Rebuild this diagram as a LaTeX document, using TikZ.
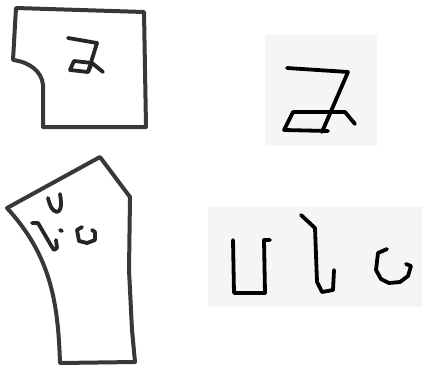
\documentclass[tikz,border=0pt]{standalone}
\begin{document}
\begin{tikzpicture}[x=1pt,y=-1pt,
  outline/.style={draw=black!78,line width=4pt,line join=round,line cap=round},
  glyph/.style={draw=black!85,line width=3.8pt,line join=round,line cap=round},
  bigglyph/.style={draw=black,line width=3.8pt,line join=round,line cap=round},
  photo/.style={fill=black!4,draw=none}]
\useasboundingbox (0,0) rectangle (422,367);
\fill[white] (0,0) rectangle (422,367);
% photo backgrounds
\fill[photo] (265,35) rectangle (377,146);
\fill[photo] (208,207) rectangle (422,307);
% fragment 1
\draw[outline] (16,8) -- (144,12) -- (146,127) -- (43,127) -- (43,85)
  .. controls (42,72) and (30,62) .. (13,60) -- cycle;
\draw[glyph] (68,38) -- (97,43) -- (88,72);
\draw[glyph] (74,61) -- (92,63) -- (88,72) -- (70,70) -- cycle;
\draw[glyph] (92,63) -- (103,72);
% fragment 2
\draw[outline] (7,208) -- (100,157) -- (130,197) -- (129,270) -- (132,330) -- (135,362) -- (60,363)
  .. controls (58,300) and (50,255) .. cycle;
\draw[glyph] (48,198) .. controls (50,206) and (52,211) .. (57,212) .. controls (61,211) and (62,206) .. (60,194);
\draw[glyph] (32,223) -- (38,223) -- (45,235) -- (52,247) -- (54,250) -- (57,248) -- (56,240);
\draw[glyph] (60,230) -- (62,231);
\draw[glyph] (82,227) -- (77,230) -- (79,241) -- (87,243) -- (95,240) -- (95,232) -- (92,230);
% photo glyph 1
\draw[bigglyph] (287,68) -- (348,72) -- (322,132);
\draw[bigglyph] (293,112) -- (345,112) -- (355,124);
\draw[bigglyph] (293,112) -- (284,130) -- (328,131);
% photo glyph 2
\draw[bigglyph] (233,240) -- (234,293) -- (265,293) -- (264,240) -- (270,240);
\draw[bigglyph] (301,215) -- (315,228) -- (317,282) -- (322,292) -- (333,290) -- (334,270);
\draw[bigglyph] (387,249) -- (378,253) -- (376,270) -- (381,279) -- (389,283) -- (400,282) -- (408,276) -- (411,266) -- (406,264);
\end{tikzpicture}
\end{document}
